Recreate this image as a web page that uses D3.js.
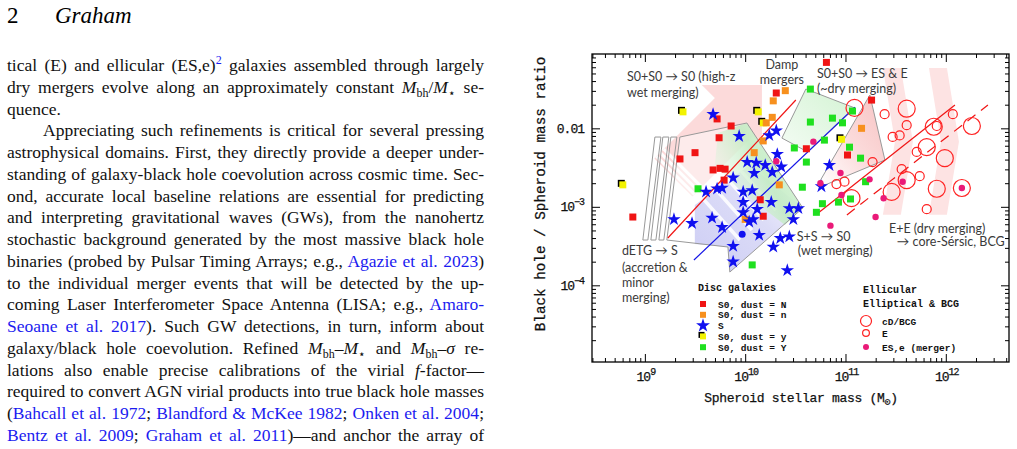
<!DOCTYPE html>
<html>
<head>
<meta charset="utf-8">
<title>Graham - black hole / spheroid mass ratio</title>
<script src="https://cdn.jsdelivr.net/npm/d3@7"></script>
<style>
  html, body { margin: 0; padding: 0; background: #fff; }
  svg { display: block; }
</style>
</head>
<body>
<svg id="page" width="1017" height="449"></svg>
<script>
// ---- data: [log10 spheroid stellar mass, log10 (M_bh / M_sph)] ----
const s0DustN = [[9.72,-1.88],[9.86,-1.97],[9.74,-2.12],[9.35,-2.39],[9.50,-2.31],[9.68,-2.53],[9.75,-2.51],[9.80,-2.52],[9.79,-2.66],[8.88,-3.13],[10.31,-1.55],[10.81,-1.16],[10.61,-2.26],[11.26,-1.64],[11.02,-2.34],[10.15,-2.91],[10.18,-3.12]];
const s0Dustn = [[10.40,-1.52],[10.28,-1.65],[10.27,-1.86],[10.21,-1.93],[10.18,-2.16],[10.09,-2.31],[10.34,-2.72],[11.16,-2.00],[10.00,-3.16]];
const s0Dusty = [[9.38,-1.79],[8.78,-2.72],[10.13,-1.79],[10.18,-1.93],[10.96,-2.14]];
const s0DustY = [[10.65,-1.50],[11.07,-1.78],[10.65,-1.92],[10.87,-1.87],[10.97,-1.93],[10.79,-2.15],[11.04,-2.24],[10.49,-2.25],[10.61,-2.43],[11.15,-2.38],[10.57,-2.75],[11.20,-2.68],[9.53,-2.77],[10.71,-3.07],[10.77,-2.96],[10.93,-2.94],[11.05,-2.90],[10.07,-3.74]];
const spirals = [[9.68,-1.82],[9.94,-2.10],[10.24,-2.09],[10.31,-2.03],[10.32,-2.33],[10.02,-2.43],[10.11,-2.44],[10.20,-2.47],[10.09,-2.57],[10.27,-2.56],[10.36,-2.49],[9.88,-2.63],[9.61,-2.81],[9.72,-2.77],[9.77,-2.76],[9.98,-2.81],[10.07,-2.79],[9.98,-2.94],[10.26,-2.94],[9.98,-3.07],[10.12,-3.03],[10.04,-3.19],[10.08,-3.16],[9.29,-3.16],[9.47,-3.21],[9.67,-3.14],[9.77,-3.26],[10.44,-3.02],[10.53,-3.02],[10.48,-3.16],[10.14,-3.36],[10.35,-3.40],[10.44,-3.38],[9.88,-3.50],[10.28,-3.51],[9.88,-3.70],[10.42,-3.81],[10.84,-2.47],[10.76,-2.74]];
const spiralDot = [[9.97,-3.35]];
const ellicular = [[10.31,-2.42],[10.68,-2.17],[10.75,-2.70],[10.95,-2.57],[11.24,-2.65],[10.96,-2.85],[11.38,-2.89],[11.57,-2.68],[12.16,-2.76],[11.30,-3.13],[10.85,-3.24]];
const ellipticals = [[11.39,-1.82],[11.47,-2.11],[11.54,-2.09],[11.61,-1.96],[11.91,-1.97],[12.07,-1.82],[11.71,-2.30],[11.74,-2.61],[11.56,-2.52],[11.27,-2.43],[10.99,-2.68],[10.91,-2.71],[11.81,-3.03]];
const cdBCG = [[11.09,-1.74],[11.61,-1.75],[11.88,-1.98],[11.81,-2.24],[11.99,-2.38],[12.26,-1.97],[11.46,-2.81],[11.61,-2.66],[11.91,-2.77],[12.16,-2.76],[11.06,-2.89]];

// fitted relations (end points)
const fitS0 = [[9.229,-3.397],[10.505,-1.639]];
const fitSpiral = [[9.489,-3.678],[11.094,-1.729]];
const fitEll = [[10.715,-3.092],[12.091,-1.703]];
const fitEllDash = [[11.014,-3.104],[12.420,-1.703]];

// schematic regions
const wetArrow = [[9.095,-2.383],[9.698,-1.614],[9.568,-1.448],[10.167,-1.448],[10.167,-2.213],[10.077,-2.098],[9.474,-2.869]];
const dETGRegion = [[9.349,-2.111],[10.017,-1.932],[10.575,-3.015],[9.847,-3.831],[9.828,-3.512],[9.219,-3.423]];
const dETGTail = [
  [[8.980,-3.423],[9.030,-3.423],[9.160,-2.111],[9.100,-2.111]],
  [[9.060,-3.423],[9.110,-3.423],[9.239,-2.111],[9.179,-2.111]],
  [[9.140,-3.423],[9.189,-3.423],[9.319,-2.111],[9.259,-2.111]]
];
const spiralBand = [[9.498,-2.977],[10.047,-2.468],[10.575,-3.015],[9.847,-3.831],[9.828,-3.512],[9.498,-3.474]];
const wetS0Band = [[9.728,-2.060],[10.017,-1.932],[10.575,-3.015],[10.396,-3.232],[9.947,-2.786],[9.698,-2.468]];
const bandStripes = [[[9.548,-2.850],[9.947,-3.423]],[[9.668,-2.722],[10.067,-3.296]],[[9.788,-2.595],[10.186,-3.168]],[[9.907,-2.468],[10.306,-3.041]]];
const dampRegion = [[10.366,-2.124],[10.605,-1.499],[11.094,-1.741],[10.625,-2.302]];
const dryS0Region = [[10.745,-2.673],[11.243,-1.576],[11.393,-2.404],[10.795,-2.722]];
const dryEChevrons = [
  [[11.373,-1.232],[11.552,-1.232],[11.672,-2.17],[11.552,-3.10],[11.373,-3.10],[11.493,-2.17]],
  [[11.832,-1.232],[12.011,-1.232],[12.131,-2.17],[12.011,-3.10],[11.832,-3.10],[11.951,-2.17]]
];

// annotation text: [label, log M, log ratio, anchor]
const notes = [
  ["S0+S0 \u2192 S0 (high-z", 8.821, -1.397, "start"],
  ["wet merging)", 8.821, -1.601, "start"],
  ["Damp", 10.366, -1.240, "middle"],
  ["mergers", 10.366, -1.436, "middle"],
  ["S0+S0 \u2192 ES & E", 10.715, -1.359, "start"],
  ["(~dry merging)", 10.715, -1.550, "start"],
  ["dETG \u2192 S", 8.771, -3.614, "start"],
  ["(accretion &", 8.771, -3.831, "start"],
  ["minor", 8.771, -4.022, "start"],
  ["merging)", 8.771, -4.213, "start"],
  ["S+S \u2192 S0", 10.515, -3.436, "start"],
  ["(wet merging)", 10.525, -3.614, "start"],
  ["E+E (dry merging)", 11.433, -3.334, "start"],
  ["\u2192 core-S\u00e9rsic, BCG", 11.512, -3.499, "start"]
];

// page text, one entry per printed line: [text, style]
const bodyText = [
  [["tical (E) and ellicular (ES,e)"],["2","sup link"],[" galaxies assembled through largely"]],
  [["dry mergers evolve along an approximately constant "],["M","i"],["bh","sub"],["/"],["M","i"],["\u22c6","sub"],[" se-"]],
  [["quence."]],
  [["Appreciating such refinements is critical for several pressing"]],
  [["astrophysical domains. First, they directly provide a deeper under-"]],
  [["standing of galaxy-black hole coevolution across cosmic time. Sec-"]],
  [["ond, accurate local baseline relations are essential for predicting"]],
  [["and interpreting gravitational waves (GWs), from the nanohertz"]],
  [["stochastic background generated by the most massive black hole"]],
  [["binaries (probed by Pulsar Timing Arrays; e.g., "],["Agazie et al. 2023","link"],[")"]],
  [["to the individual merger events that will be detected by the up-"]],
  [["coming Laser Interferometer Space Antenna (LISA; e.g., "],["Amaro-","link"]],
  [["Seoane et al. 2017","link"],["). Such GW detections, in turn, inform about"]],
  [["galaxy/black hole coevolution. Refined "],["M","i"],["bh","sub"],["\u2013"],["M","i"],["\u22c6","sub"],[" and "],["M","i"],["bh","sub"],["\u2013"],["\u03c3","i"],[" re-"]],
  [["lations also enable precise calibrations of the virial "],["f","i"],["-factor\u2014"]],
  [["required to convert AGN virial products into true black hole masses"]],
  [["("],["Bahcall et al. 1972","link"],["; "],["Blandford & McKee 1982","link"],["; "],["Onken et al. 2004","link"],[";"]],
  [["Bentz et al. 2009","link"],["; "],["Graham et al. 2011","link"],[")\u2014and anchor the array of"]]
];

const svg = d3.select("#page");
const serif = "'Liberation Serif','Times New Roman',serif";
const mono = "'Liberation Mono','Courier New',monospace";
const linkBlue = "#1b1bf0";

// ---------- left column ----------
const head = svg.append("g").attr("font-family", serif).attr("font-size", 23);
head.append("text").attr("x", 7).attr("y", 23).text("2");
head.append("text").attr("x", 55).attr("y", 23).attr("font-style", "italic").text("Graham");

const body = svg.append("g").attr("font-family", serif).attr("font-size", 17.5).attr("fill", "#111");
bodyText.forEach((segs, i) => {
  const indent = i === 3 ? 36 : 0;
  const t = body.append("text").attr("x", 7 + indent).attr("y", 71 + i * 21.75);
  let shift = 0;
  segs.forEach(([s, c = ""]) => {
    const cl = c.split(" ");
    const ts = t.append("tspan").text(s);
    const want = cl.includes("sub") ? 4 : cl.includes("sup") ? -7 : 0;
    if (want !== shift) { ts.attr("dy", want - shift); shift = want; }
    if (cl.includes("sub") || cl.includes("sup")) ts.attr("font-size", 12);
    if (cl.includes("i")) ts.attr("font-style", "italic");
    if (cl.includes("link")) ts.attr("fill", linkBlue);
  });
  if (i !== 2) {
    const w = t.node().getComputedTextLength();
    const spaces = segs.map(d => d[0]).join("").split(" ").length - 1;
    t.style("word-spacing", ((477 - indent - w) / spaces) + "px");
  }
});

// ---------- chart ----------
const fr = { l: 592, t: 54, r: 1009, b: 362 };
const x = d3.scaleLog().domain([10 ** 8.473, 10 ** 12.630]).range([fr.l, fr.r]);
const y = d3.scaleLog().domain([10 ** -4.977, 10 ** -1.053]).range([fr.b, fr.t]);
const px = d => x(10 ** d[0]), py = d => y(10 ** d[1]);
const path = d3.line().x(px).y(py);
const closed = pts => path(pts) + "Z";

const defs = svg.append("defs");
defs.append("clipPath").attr("id", "plotClip").append("rect")
  .attr("x", fr.l).attr("y", fr.t).attr("width", fr.r - fr.l).attr("height", fr.b - fr.t);
defs.append("clipPath").attr("id", "bandClip").append("path").attr("d", closed(spiralBand));

function grad(id, x1, y1, x2, y2, stops) {
  const g = defs.append("linearGradient").attr("id", id)
    .attr("x1", x1).attr("y1", y1).attr("x2", x2).attr("y2", y2);
  stops.forEach(([o, c, op = 1]) => g.append("stop").attr("offset", o).attr("stop-color", c).attr("stop-opacity", op));
}
grad("gSpiral", 0, 1, 1, 0, [[0, "#cdcdf4"], [0.55, "#dcdcf7"], [1, "#ececfb", 0.4]]);
grad("gWet", 0, 0.8, 1, 0.2, [[0, "#e8f8e8", 0.2], [0.55, "#c0ebc0"], [1, "#daf4da"]]);
grad("gDry", 1, 0, 0, 1, [[0, "#f7c2c2"], [0.5, "#fbdada"], [1, "#ffffff"]]);
grad("gDamp", 0, 1, 1, 0, [[0, "#f4fcf4"], [1, "#d3f3d3"]]);

const plot = svg.append("g").attr("clip-path", "url(#plotClip)");
const regions = plot.append("g");

regions.selectAll(".chev").data(dryEChevrons).join("path")
  .attr("d", closed).attr("fill", "#fde3e3");

regions.append("path").attr("d", closed(wetArrow)).attr("fill", "#fcdada");
// fading tail of the wet-merging arrow
const tA = [px(wetArrow[0]), py(wetArrow[0])], nA = [px(wetArrow[1]), py(wetArrow[1])];
const tB = [px(wetArrow[6]), py(wetArrow[6])], nB = [px(wetArrow[5]), py(wetArrow[5])];
[0.035, 0.095, 0.155].forEach(f => {
  const a = d3.interpolate(tA, nA)(f), b = d3.interpolate(tB, nB)(f);
  regions.append("line").attr("x1", a[0]).attr("y1", a[1]).attr("x2", b[0]).attr("y2", b[1])
    .attr("stroke", "#fff").attr("stroke-width", 3.2);
});

regions.append("path").attr("d", closed(dryS0Region)).attr("fill", "url(#gDry)")
  .attr("stroke", "#999").attr("stroke-width", 1);
regions.append("path").attr("d", closed(dampRegion)).attr("fill", "url(#gDamp)")
  .attr("stroke", "#999").attr("stroke-width", 1);

regions.append("path").attr("d", closed(dETGRegion)).attr("fill", "#fff").attr("fill-opacity", 0.45);
regions.append("path").attr("d", closed(spiralBand)).attr("fill", "url(#gSpiral)");
regions.append("g").attr("clip-path", "url(#bandClip)").selectAll("line").data(bandStripes).join("line")
  .attr("x1", d => px(d[0])).attr("y1", d => py(d[0])).attr("x2", d => px(d[1])).attr("y2", d => py(d[1]))
  .attr("stroke", "#fff").attr("stroke-opacity", 0.85).attr("stroke-width", 3.5);
regions.append("path").attr("d", closed(wetS0Band)).attr("fill", "url(#gWet)").attr("fill-opacity", 0.85);
regions.append("path").attr("d", closed(dETGRegion)).attr("fill", "none").attr("stroke", "#999").attr("stroke-width", 1);
regions.selectAll(".tail").data(dETGTail).join("path")
  .attr("d", closed).attr("fill", "none").attr("stroke", "#999").attr("stroke-width", 1);

// fit lines
const fits = plot.append("g").attr("fill", "none").attr("stroke-width", 1.2);
fits.append("path").attr("d", path(fitS0)).attr("stroke", "#f01414");
fits.append("path").attr("d", path(fitSpiral)).attr("stroke", "#1414e6");
fits.append("path").attr("d", path(fitEll)).attr("stroke", "#f01414");
fits.append("path").attr("d", path(fitEllDash)).attr("stroke", "#f01414").attr("stroke-dasharray", "10,7");

// annotation labels
plot.append("g").attr("font-family", "Lato, 'Open Sans', sans-serif").attr("font-size", 12.5).attr("fill", "#3a3a3a")
  .selectAll("text").data(notes).join("text")
  .attr("x", d => x(10 ** d[1])).attr("y", d => y(10 ** d[2])).attr("text-anchor", d => d[3]).text(d => d[0]);

// markers
const marks = plot.append("g");
const sq = 7;
const squares = (data, fill) => marks.append("g").selectAll("rect").data(data).join("rect")
  .attr("x", d => px(d) - sq / 2).attr("y", d => py(d) - sq / 2).attr("width", sq).attr("height", sq).attr("fill", fill);

marks.append("g").selectAll("circle").data(ellipticals).join("circle")
  .attr("cx", px).attr("cy", py).attr("r", 4.5).attr("fill", "none").attr("stroke", "#f22").attr("stroke-width", 1.2);
marks.append("g").selectAll("circle").data(cdBCG).join("circle")
  .attr("cx", px).attr("cy", py).attr("r", 8.5).attr("fill", "none").attr("stroke", "#f22").attr("stroke-width", 1.2);

marks.append("g").selectAll("rect").data(s0Dusty).join("rect")
  .attr("x", d => px(d) - sq / 2 - 1.5).attr("y", d => py(d) - sq / 2 - 1.5).attr("width", sq).attr("height", sq).attr("fill", "#000");
squares(s0Dusty, "#f2f200");
squares(s0DustY, "#1fe01f");
squares(s0DustN, "#f01414");
squares(s0Dustn, "#f7901e");

const star = d3.symbol().type(d3.symbolStar).size(56);
marks.append("g").selectAll("path").data(spirals).join("path")
  .attr("transform", d => `translate(${px(d)},${py(d)})`).attr("d", star).attr("fill", "#1010f0");
marks.append("g").selectAll("circle").data(spiralDot).join("circle")
  .attr("cx", px).attr("cy", py).attr("r", 3.5).attr("fill", "#1010f0");
marks.append("g").selectAll("circle").data(ellicular).join("circle")
  .attr("cx", px).attr("cy", py).attr("r", 3.2).attr("fill", "#ea1a78");

// axes: ticks on all four sides, pointing inwards
const isMajor = v => Math.abs(Math.log10(v) - Math.round(Math.log10(v))) < 1e-6;
const xTicks = x.ticks(), yTicks = y.ticks();
const xMaj = xTicks.filter(isMajor), xMin = xTicks.filter(v => !isMajor(v));
const yMaj = yTicks.filter(isMajor), yMin = yTicks.filter(v => !isMajor(v));

function side(axisFn, scale, vals, size, tr) {
  svg.append("g").attr("transform", tr)
    .call(axisFn(scale).tickValues(vals).tickSize(size).tickSizeOuter(0).tickFormat(""))
    .call(g => g.select(".domain").remove())
    .call(g => g.selectAll("line").attr("stroke", "#000").attr("stroke-width", 1));
}
side(d3.axisBottom, x, xMaj, -8, `translate(0,${fr.b})`);
side(d3.axisBottom, x, xMin, -4, `translate(0,${fr.b})`);
side(d3.axisTop, x, xMaj, -8, `translate(0,${fr.t})`);
side(d3.axisTop, x, xMin, -4, `translate(0,${fr.t})`);
side(d3.axisLeft, y, yMaj, -8, `translate(${fr.l},0)`);
side(d3.axisLeft, y, yMin, -4, `translate(${fr.l},0)`);
side(d3.axisRight, y, yMaj, -8, `translate(${fr.r},0)`);
side(d3.axisRight, y, yMin, -4, `translate(${fr.r},0)`);

svg.append("rect").attr("x", fr.l).attr("y", fr.t).attr("width", fr.r - fr.l).attr("height", fr.b - fr.t)
  .attr("fill", "none").attr("stroke", "#000").attr("stroke-width", 1.3);

// tick labels and axis titles: typewriter face, medium weight
const lab = svg.append("g").attr("font-family", mono).attr("fill", "#111")
  .attr("stroke", "#111").attr("stroke-width", 0.25);
xMaj.forEach(v => {
  const t = lab.append("text").attr("x", x(v) + 1).attr("y", 381).attr("text-anchor", "middle")
    .attr("font-size", 13).attr("letter-spacing", -1);
  t.append("tspan").text("10");
  t.append("tspan").attr("dy", -6).attr("font-size", 10).text(Math.round(Math.log10(v)));
});
yMaj.forEach(v => {
  const e = Math.round(Math.log10(v));
  const t = lab.append("text").attr("x", 584).attr("y", y(v) + 4.5).attr("text-anchor", "end")
    .attr("font-size", 13).attr("letter-spacing", -1);
  if (e === -2) t.text("0.01");
  else {
    t.append("tspan").text("10");
    t.append("tspan").attr("dy", -6).attr("font-size", 10).text("\u2212" + (-e));
  }
});

const xt = lab.append("text").attr("x", 801).attr("y", 402).attr("text-anchor", "middle")
  .attr("font-size", 13).attr("letter-spacing", -0.3);
xt.append("tspan").text("Spheroid stellar mass (M");
xt.append("tspan").attr("dy", 3).attr("font-size", 10).text("\u2299");
xt.append("tspan").attr("dy", -3).text(")");
lab.append("text").attr("transform", "translate(545,194) rotate(-90)").attr("text-anchor", "middle")
  .attr("font-size", 14.3).text("Black hole / Spheroid mass ratio");

// legends
const leg = svg.append("g").attr("font-family", mono).attr("font-weight", "bold").attr("font-size", 9.5).attr("fill", "#111");
leg.append("text").attr("x", 698).attr("y", 291).attr("font-size", 10).text("Disc galaxies");
const discKeys = [
  ["S0, dust = N", "sq", "#f01414"],
  ["S0, dust = n", "sq", "#f7901e"],
  ["S", "star", "#1010f0"],
  ["S0, dust = y", "sqy", "#f2f200"],
  ["S0, dust = Y", "sq", "#1fe01f"]
];
discKeys.forEach(([label, kind, col], i) => {
  const cy = 304 + i * 10.8;
  if (kind === "star") {
    leg.append("path").attr("transform", `translate(703,${cy})`).attr("d", d3.symbol().type(d3.symbolStar).size(60)).attr("fill", col);
  } else {
    if (kind === "sqy") leg.append("rect").attr("x", 700 - 1.5).attr("y", cy - 3 - 1.5).attr("width", 6).attr("height", 6).attr("fill", "#000");
    leg.append("rect").attr("x", 700).attr("y", cy - 3).attr("width", 6).attr("height", 6).attr("fill", col);
  }
  leg.append("text").attr("x", 718).attr("y", cy + 3.5).text(label);
});

leg.append("text").attr("x", 863).attr("y", 293).attr("font-size", 10).text("Ellicular");
leg.append("text").attr("x", 863).attr("y", 307).attr("font-size", 10).text("Elliptical & BCG");
const ellKeys = [["cD/BCG", 5.5, "ring"], ["E", 3.4, "ring"], ["ES,e (merger)", 3, "dot"]];
[321, 333, 347].forEach((cy, i) => {
  const [label, r, kind] = ellKeys[i];
  leg.append("circle").attr("cx", 866).attr("cy", cy).attr("r", r)
    .attr("fill", kind === "dot" ? "#ea1a78" : "none").attr("stroke", kind === "dot" ? "none" : "#f22").attr("stroke-width", 1.2);
  leg.append("text").attr("x", 882).attr("y", cy + 3.5).text(label);
});
</script>
</body>
</html>
